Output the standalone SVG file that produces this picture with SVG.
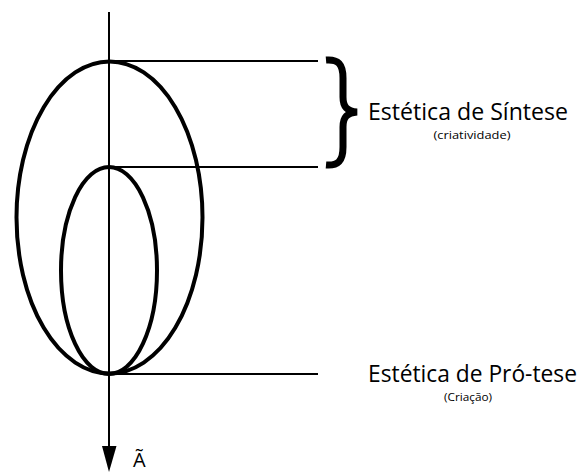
<svg xmlns="http://www.w3.org/2000/svg" width="584" height="472" viewBox="0 0 584 472">
<style>
.e{fill:none;stroke:#000;stroke-width:4}
.l{stroke:#000;stroke-width:2;fill:none}
.t{font-family:"Open Sans","Liberation Sans",sans-serif;fill:#000}
</style>
<rect width="584" height="472" fill="#fff"/>
<g id="connectors">
<line class="l" x1="109" y1="12" x2="109" y2="448"/>
<path d="M102,446 L116.5,446 L109,472 Z" fill="#000"/>
<line class="l" x1="109" y1="61" x2="318" y2="61"/>
<line class="l" x1="109" y1="167" x2="318" y2="167"/>
<line class="l" x1="109" y1="374" x2="318" y2="374"/>
</g>
<g id="outer"><ellipse class="e" cx="109.5" cy="217.5" rx="93" ry="156"/></g>
<g id="inner"><ellipse class="e" cx="109" cy="270.5" rx="48" ry="103.5"/></g>
<g id="brace"><path d="M326,60 C338,59 343,64 343,78 L343,97 C343,107 347,111 357,112 C347,113 343,117 343,127 L343,147 C343,161 338,166 326,165" fill="none" stroke="#000" stroke-width="7"/></g>
<g id="sintese">
<text class="t" x="368" y="120" font-size="23" textLength="200" lengthAdjust="spacingAndGlyphs">Estética de Síntese</text>
<text class="t" x="472" y="139" font-size="11.5" text-anchor="middle" textLength="77" lengthAdjust="spacingAndGlyphs">(criatividade)</text>
</g>
<g id="protese">
<text class="t" x="368" y="382" font-size="23" textLength="209" lengthAdjust="spacingAndGlyphs">Estética de Pró-tese</text>
<text class="t" x="468" y="401" font-size="11.5" text-anchor="middle" textLength="48" lengthAdjust="spacingAndGlyphs">(Criação)</text>
</g>
<g id="axislabel"><text class="t" x="133" y="467" font-size="20">Ã</text></g>
</svg>
